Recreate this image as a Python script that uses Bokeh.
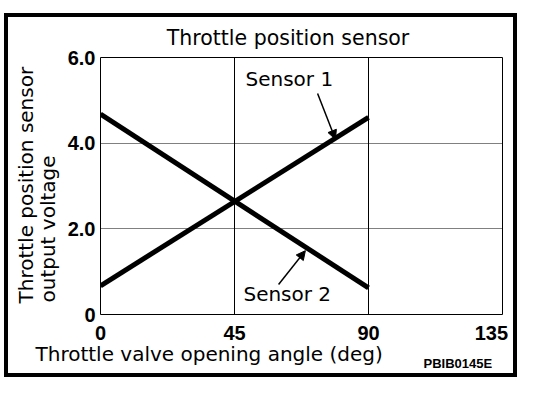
from bokeh.plotting import figure
from bokeh.models import (Label, Arrow, NormalHead, FixedTicker)
from bokeh.embed import file_html
from bokeh.resources import INLINE
import math

# ---- data ----
angle_deg = [0, 90]
sensor1_v = [0.67, 4.60]
sensor2_v = [4.68, 0.62]
x_ticks = [0, 45, 90, 135]
x_tick_labels = {0: "0", 45: "45", 90: "90", 135: "135\u2007\u2007"}
y_ticks = [0, 2, 4, 6]
y_tick_labels = {0: "0", 2: "2.0", 4: "4.0", 6: "6.0"}
title_text = "Throttle position sensor"
ylabel_lines = ["Throttle position sensor", "output voltage"]
xlabel_text = "Throttle valve opening angle (deg)"
code_text = "PBIB0145E"
series_names = ["Sensor 1", "Sensor 2"]

FONT = "DejaVu Sans"
TICKFONT = "Liberation Sans"

# thick outer frame drawn by CSS behind the (transparent) canvas
g = "linear-gradient(#000,#000)"
frame_css = ", ".join([
    f"{g} 4px 13px / 513px 4px no-repeat",
    f"{g} 4px 373px / 513px 4px no-repeat",
    f"{g} 4px 13px / 4px 364px no-repeat",
    f"{g} 513px 13px / 4px 364px no-repeat",
    "#ffffff",
])

p = figure(width=560, height=394, output_backend="svg", toolbar_location=None,
           x_range=(0, 135), y_range=(0, 6),
           min_border_left=100, min_border_right=58,
           min_border_top=57, min_border_bottom=80,
           background_fill_color="white", border_fill_color=None,
           styles={"background": frame_css})
p.outline_line_color = "black"
p.outline_line_width = 1

for ax in (p.xaxis[0], p.yaxis[0]):
    ax.axis_line_color = None
    ax.major_tick_line_color = None
    ax.minor_tick_line_color = None
    ax.major_tick_out = 0
    ax.major_tick_in = 0
    ax.minor_tick_out = 0
    ax.major_label_text_font = TICKFONT
    ax.major_label_text_font_style = "bold"
    ax.major_label_text_font_size = "20px"
    ax.major_label_text_color = "black"
p.xaxis[0].ticker = FixedTicker(ticks=x_ticks)
p.xaxis[0].major_label_overrides = {k: v for k, v in x_tick_labels.items()}
p.yaxis[0].ticker = FixedTicker(ticks=y_ticks)
p.yaxis[0].major_label_overrides = {k: v for k, v in y_tick_labels.items()}
p.xaxis[0].major_label_standoff = 7
p.yaxis[0].major_label_standoff = 5

p.xgrid[0].ticker = FixedTicker(ticks=[45, 90])
p.xgrid[0].grid_line_color = "black"
p.xgrid[0].grid_line_width = 1
p.ygrid[0].ticker = FixedTicker(ticks=[2, 4])
p.ygrid[0].grid_line_color = "black"
p.ygrid[0].grid_line_width = 1
p.ygrid[0].grid_line_dash = "1 1"

p.line(angle_deg, sensor1_v, line_color="black", line_width=5)
p.line(angle_deg, sensor2_v, line_color="black", line_width=5)

def outer(x, y, t, size, side, style="normal", font=FONT, angle=0.0, align="left"):
    p.add_layout(Label(x=x, y=y, text=t, text_font=font, text_font_size=size,
                       text_font_style=style, text_color="black", angle=angle,
                       text_align=align, text_baseline="alphabetic",
                       x_units="canvas", y_units="canvas"), side)

outer(287.5, 37, title_text, "20.5px", "above", align="center")
outer(25, 303, ylabel_lines[0], "20px", "left", angle=math.pi / 2)
outer(47, 302, ylabel_lines[1], "20px", "left", angle=math.pi / 2)
outer(35, 353, xlabel_text, "20px", "below")
outer(423, 363, code_text, "13px", "below", style="bold", font=TICKFONT)

def inner(x, y, t):
    p.add_layout(Label(x=x, y=y, text=t, text_font=FONT, text_font_size="20px",
                       text_color="black", text_baseline="alphabetic"))

inner(48.7, 5.49, series_names[0])
inner(48.0, 0.47, series_names[1])

for (x0, y0, x1, y1) in [(72.9, 5.16, 78.9, 4.09), (59.8, 0.70, 68.8, 1.49)]:
    p.add_layout(Arrow(x_start=x0, y_start=y0, x_end=x1, y_end=y1, line_width=1.5,
                       line_color="black",
                       end=NormalHead(size=9, fill_color="black", line_color="black")))

open("out.html", "w").write(file_html(p, INLINE))
